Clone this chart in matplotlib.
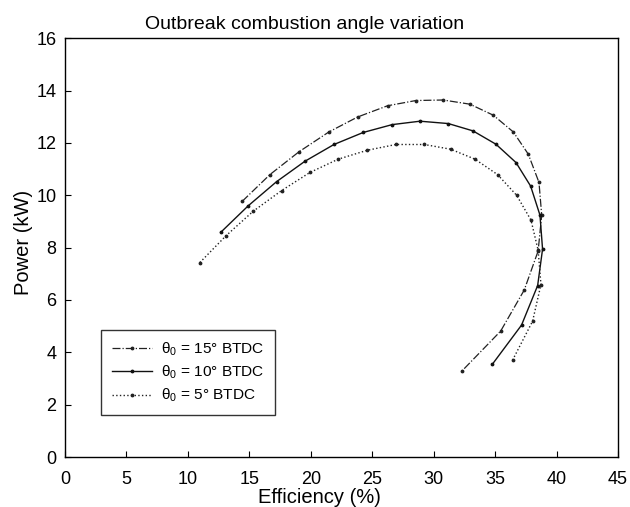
import matplotlib
matplotlib.use("Agg")
import matplotlib.pyplot as plt

plt.rcParams['font.family'] = ['Liberation Sans', 'DejaVu Sans']
plt.rcParams['mathtext.fontset'] = 'custom'
plt.rcParams['mathtext.rm'] = 'Liberation Sans'
plt.rcParams['mathtext.it'] = 'Liberation Sans:italic'

title = "Outbreak combustion angle variation"
xlabel = "Efficiency (%)"
ylabel = "Power (kW)"

eff_15 = [14.43, 16.68, 19.04, 21.48, 23.81, 26.25, 28.56, 30.78, 32.95, 34.85, 36.48, 37.70, 38.57, 38.79, 38.50, 37.37, 35.45, 32.33]
pow_15 = [9.77, 10.79, 11.66, 12.42, 12.99, 13.42, 13.62, 13.64, 13.48, 13.06, 12.42, 11.57, 10.49, 9.24, 7.87, 6.38, 4.81, 3.30]

eff_10 = [12.67, 14.92, 17.22, 19.53, 21.89, 24.27, 26.63, 28.89, 31.19, 33.20, 35.07, 36.70, 37.89, 38.65, 38.86, 38.46, 37.15, 34.77]
pow_10 = [8.58, 9.60, 10.52, 11.30, 11.94, 12.40, 12.70, 12.83, 12.74, 12.46, 11.95, 11.25, 10.35, 9.24, 7.94, 6.55, 5.04, 3.54]

eff_5 = [10.98, 13.10, 15.32, 17.63, 19.93, 22.24, 24.60, 26.93, 29.24, 31.38, 33.36, 35.20, 36.75, 37.92, 38.50, 38.73, 38.05, 36.42]
pow_5 = [7.43, 8.45, 9.39, 10.18, 10.87, 11.38, 11.72, 11.94, 11.94, 11.76, 11.38, 10.79, 10.00, 9.05, 7.90, 6.59, 5.19, 3.70]

labels = ["θ$_0$ = 15° BTDC", "θ$_0$ = 10° BTDC", "θ$_0$ = 5° BTDC"]

xticks = [0, 5, 10, 15, 20, 25, 30, 35, 40, 45]
yticks = [0, 2, 4, 6, 8, 10, 12, 14, 16]

fig = plt.figure(figsize=(6.3, 5.07), dpi=100)
ax = fig.add_axes([0.103, 0.0986, 0.878, 0.826])

ax.plot(eff_15, pow_15, linestyle='-.', color='#222222', linewidth=0.9,
        marker='.', markersize=3.5, label=labels[0])
ax.plot(eff_10, pow_10, linestyle='-', color='#111111', linewidth=1.0,
        marker='.', markersize=3.5, label=labels[1])
ax.plot(eff_5, pow_5, linestyle=':', color='#222222', linewidth=1.0,
        marker='.', markersize=3.5, label=labels[2])

ax.set_xlim(0, 45)
ax.set_ylim(0, 16)
ax.set_xticks(xticks)
ax.set_yticks(yticks)
ax.tick_params(direction='in', length=4, width=0.8, labelsize=13)
ax.tick_params(axis='x', pad=10)
ax.tick_params(axis='y', pad=6)
ax.set_xlabel(xlabel, fontsize=14.5)
ax.set_ylabel(ylabel, fontsize=14.5)
ax.xaxis.set_label_coords(0.461, -0.074)
ax.yaxis.set_label_coords(-0.058, 0.512)
ax.set_title(title, fontsize=14, x=0.434, pad=7)
for s in ax.spines.values():
    s.set_linewidth(1.0)

leg = ax.legend(loc='lower left', bbox_to_anchor=(0.065, 0.1), fontsize=11.1,
                frameon=True, fancybox=False, edgecolor='black',
                handlelength=2.6, borderpad=0.7, labelspacing=0.38,
                numpoints=1, borderaxespad=0, handletextpad=0.6)
leg.get_frame().set_linewidth(1.0)

fig.savefig("out.png", dpi=100)
